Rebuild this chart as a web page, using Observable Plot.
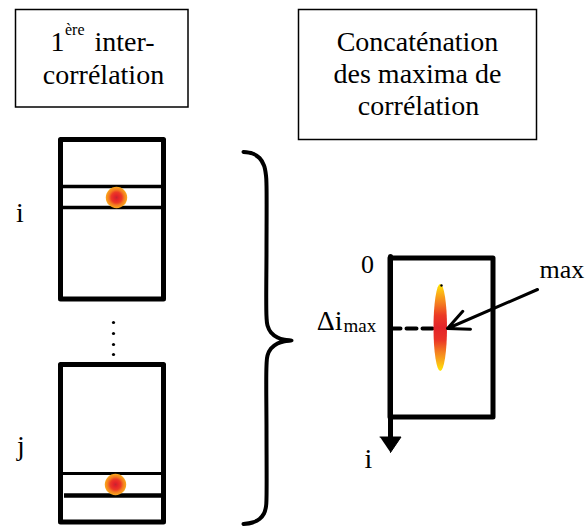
<!DOCTYPE html>
<html><head><meta charset="utf-8">
<script src="https://cdn.jsdelivr.net/npm/d3@7"></script>
<script src="https://cdn.jsdelivr.net/npm/@observablehq/plot@0.6"></script>
<style>
html,body{margin:0;padding:0;background:#fff;}
#chart svg{display:block;}
#chart svg text, #chart svg tspan{font-family:"Liberation Serif","Times New Roman",Times,"DejaVu Serif",serif !important;}
</style>
</head><body><div id="chart"></div>
<script>
// ---- data (diagram geometry, in pixel units) ----
const titleBoxes = [
  {x1: 15.5, x2: 188, y1: 9.5, y2: 107},
  {x1: 298.5, x2: 536.5, y1: 9.5, y2: 139.5}
];
const titleStart = [
  {label: "1", x: 50, y: 50, size: 28},
  {label: "ère", x: 64.5, y: 34, size: 16},
  {label: "inter-", x: 94, y: 50, size: 28}
];
const titleCentered = [
  {label: "corrélation", x: 103, y: 83, size: 28},
  {label: "Concaténation", x: 417, y: 50, size: 28},
  {label: "des maxima de", x: 417, y: 82, size: 28},
  {label: "corrélation", x: 418, y: 114, size: 28}
];
const frames = [
  {x1: 60.5, x2: 163.5, y1: 139.5, y2: 299},
  {x1: 60.5, x2: 163.5, y1: 364.5, y2: 522},
  {x1: 390, x2: 493, y1: 258, y2: 417}
];
const rowLines = [
  {x1: 62, x2: 162, y: 186, w: 3.5},
  {x1: 62, x2: 162, y: 207, w: 3.5},
  {x1: 62, x2: 162, y: 473, w: 3},
  {x1: 64, x2: 162, y: 495, w: 4.5}
];
const peaks = [{x: 116, y: 197}, {x: 115, y: 484}];
const ellipsisDots = [{x: 113, y: 322}, {x: 113, y: 333}, {x: 113, y: 344}, {x: 113, y: 354}];
const brace = [
  {x: 243, y: 151.5}, {x: 252, y: 153}, {x: 259, y: 157.5}, {x: 263.5, y: 165}, {x: 265.5, y: 175}, {x: 266, y: 185},
  {x: 266, y: 250}, {x: 266, y: 316}, {x: 267, y: 325}, {x: 270.5, y: 332}, {x: 277, y: 337}, {x: 284, y: 339.3}, {x: 291, y: 340},
  {x: 284, y: 340.7}, {x: 277, y: 343}, {x: 270.5, y: 348}, {x: 267, y: 355}, {x: 266, y: 365},
  {x: 266, y: 430}, {x: 266, y: 497}, {x: 265.5, y: 506}, {x: 263.5, y: 513}, {x: 259, y: 518.5}, {x: 252, y: 522}, {x: 243, y: 523.5}
];
const axisLine = [{x: 390, y: 256}, {x: 390, y: 440}];
const axisHead = [{x: 379.5, y: 436.5}, {x: 400.5, y: 436.5}, {x: 390, y: 452}];
const dashLine = [{x: 390, y: 328}, {x: 440, y: 328}];
const ridge = [{x1: 433.5, x2: 447, y1: 284, y2: 371}];
const ridgeTip = [{x: 441, y: 285}];
const pointer = [{x1: 537, y1: 289, x2: 447, y2: 328}];
const labelsMiddle = [
  {label: "i", x: 19.5, y: 221, size: 28},
  {label: "j", x: 20.5, y: 454, size: 28},
  {label: "0", x: 367, y: 272, size: 26},
  {label: "i", x: 368, y: 467, size: 28}
];
const labelsStart = [
  {label: "max", x: 539, y: 277, size: 26},
  {label: "max", x: 343, y: 331, size: 19}
];
const labelsEnd = [
  {label: "Δi", x: 342, y: 329, size: 28}
];

const defs = () => {
  const d = d3.create("svg:defs");
  const rg = d.append("radialGradient").attr("id", "peakGrad");
  [[0, "#c4262f"], [0.22, "#e5232a"], [0.5, "#ec3b25"], [0.72, "#f47a20"], [1, "#f9a81b"]]
    .forEach(([o, c]) => rg.append("stop").attr("offset", o).attr("stop-color", c));
  const lg = d.append("linearGradient").attr("id", "ridgeGrad")
    .attr("x1", 0).attr("y1", 0).attr("x2", 0).attr("y2", 1);
  [[0, "#ffe800"], [0.1, "#fbb417"], [0.22, "#f47e20"], [0.36, "#ec3a25"], [0.5, "#e2242b"],
   [0.64, "#ea3327"], [0.78, "#f47e20"], [0.9, "#fbb417"], [1, "#ffe800"]]
    .forEach(([o, c]) => lg.append("stop").attr("offset", o).attr("stop-color", c));
  return d.node();
};

const font = "Liberation Serif, Times New Roman, serif";
const chart = Plot.plot({
  width: 587, height: 527, margin: 0,
  x: {domain: [0, 587], range: [0, 587], axis: null},
  y: {domain: [0, 527], range: [0, 527], axis: null},
  style: {background: "white", fontFamily: font},
  marks: [
    defs,
    Plot.rect(titleBoxes, {x1: "x1", x2: "x2", y1: "y1", y2: "y2", fill: "none", stroke: "black", strokeWidth: 1.5}),
    Plot.text(titleStart, {x: "x", y: "y", text: "label", fontSize: "size", textAnchor: "start", lineAnchor: "bottom", fill: "black", fontFamily: font}),
    Plot.text(titleCentered, {x: "x", y: "y", text: "label", fontSize: "size", textAnchor: "middle", lineAnchor: "bottom", fill: "black", fontFamily: font}),
    Plot.rect(frames, {x1: "x1", x2: "x2", y1: "y1", y2: "y2", fill: "none", stroke: "black", strokeWidth: 5, strokeLinejoin: "round"}),
    Plot.ruleY(rowLines, {y: "y", x1: "x1", x2: "x2", strokeWidth: "w", stroke: "black"}),
    Plot.dot(peaks, {x: "x", y: "y", r: 10.7, fill: "url(#peakGrad)", stroke: null}),
    Plot.dot(ellipsisDots, {x: "x", y: "y", r: 1.6, fill: "black"}),
    Plot.line(brace, {x: "x", y: "y", curve: "catmull-rom", stroke: "black", strokeWidth: 4, strokeLinecap: "round"}),
    Plot.line(axisLine, {x: "x", y: "y", stroke: "black", strokeWidth: 5}),
    Plot.line(axisHead, {x: "x", y: "y", fill: "black", stroke: "black", strokeWidth: 1, strokeLinejoin: "miter"}),
    Plot.line(dashLine, {x: "x", y: "y", stroke: "black", strokeWidth: 4, strokeDasharray: "10,6"}),
    Plot.rect(ridge, {x1: "x1", x2: "x2", y1: "y1", y2: "y2", rx: 6.75, ry: 43.5, fill: "url(#ridgeGrad)"}),
    Plot.dot(ridgeTip, {x: "x", y: "y", r: 1.2, fill: "black"}),
    Plot.arrow(pointer, {x1: "x1", y1: "y1", x2: "x2", y2: "y2", stroke: "black", strokeWidth: 3, headLength: 11.5, headAngle: 50}),
    Plot.text(labelsMiddle, {x: "x", y: "y", text: "label", fontSize: "size", textAnchor: "middle", lineAnchor: "bottom", fill: "black", fontFamily: font}),
    Plot.text(labelsStart, {x: "x", y: "y", text: "label", fontSize: "size", textAnchor: "start", lineAnchor: "bottom", fill: "black", fontFamily: font}),
    Plot.text(labelsEnd, {x: "x", y: "y", text: "label", fontSize: "size", textAnchor: "end", lineAnchor: "bottom", fill: "black", fontFamily: font})
  ]
});
document.getElementById("chart").append(chart);
</script>
</body></html>
